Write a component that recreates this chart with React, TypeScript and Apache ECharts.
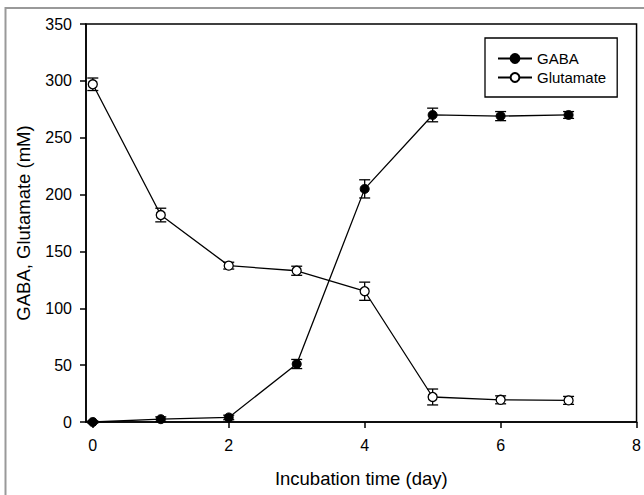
import React, { useEffect, useRef } from "react";
import * as echarts from "echarts";

const days = [0, 1, 2, 3, 4, 5, 6, 7];
const gaba = [0, 2.5, 4, 51, 205, 270, 269, 270];
const gabaErr = [1, 2, 2, 4, 8, 6, 4, 3];
const glutamate = [297, 182, 137.5, 133, 115, 22, 19.5, 19];
const glutamateErr = [5.5, 6, 3, 4, 8, 7, 3.5, 3.5];
const xTicks = [0, 2, 4, 6, 8];
const FONT = "'Liberation Sans', Arial, sans-serif";

function errorSeries(vals: number[], errs: number[]) {
  return {
    type: "custom",
    z: 1,
    silent: true,
    clip: false,
    data: days.map((d, i) => [d, vals[i] - errs[i], vals[i] + errs[i]]),
    renderItem: (params: any, api: any) => {
      const x = api.value(0);
      const lo = api.coord([x, api.value(1)]);
      const hi = api.coord([x, api.value(2)]);
      const hw = 5.5;
      const style = { stroke: "#000", lineWidth: 1.3 };
      return {
        type: "group",
        children: [
          { type: "line", shape: { x1: lo[0], y1: lo[1], x2: hi[0], y2: hi[1] }, style },
          { type: "line", shape: { x1: lo[0] - hw, y1: lo[1], x2: lo[0] + hw, y2: lo[1] }, style },
          { type: "line", shape: { x1: hi[0] - hw, y1: hi[1], x2: hi[0] + hw, y2: hi[1] }, style },
        ],
      };
    },
  };
}

export default function App() {
  const ref = useRef<HTMLDivElement>(null);
  useEffect(() => {
    document.body.style.margin = "0";
    const chart = echarts.init(ref.current!, null, { renderer: "svg" });
    chart.setOption({
      animation: false,
      backgroundColor: "#fff",
      textStyle: { fontFamily: FONT, color: "#000" },
      graphic: [
        {
          type: "rect",
          shape: { x: 5.5, y: 8, width: 700, height: 600 },
          style: { fill: "none", stroke: "#999", lineWidth: 2 },
          z: 100,
        },
      ],
      grid: {
        left: 86,
        right: 7,
        top: 24,
        bottom: 73,
        show: true,
        borderColor: "#000",
        borderWidth: 1.5,
        backgroundColor: "transparent",
      },
      legend: {
        left: 485,
        top: 38,
        orient: "vertical",
        padding: [13, 11, 12, 12],
        itemGap: 4,
        itemWidth: 34,
        itemHeight: 11,
        borderColor: "#000",
        borderWidth: 1.3,
        textStyle: { fontSize: 15, color: "#000", fontFamily: FONT, padding: [0, 0, 0, 0], lineHeight: 15 },
        data: ["GABA", "Glutamate"],
      },
      xAxis: {
        type: "value",
        min: -0.1,
        max: 8,
        name: "Incubation time (day)",
        nameLocation: "middle",
        nameGap: 47,
        nameTextStyle: { fontSize: 18.5, color: "#000", fontFamily: FONT },
        splitLine: { show: false },
        axisLine: { onZero: false, lineStyle: { color: "#000", width: 1.5 } },
        axisTick: { show: true, length: 6, lineStyle: { color: "#000", width: 1.5 }, customValues: xTicks },
        axisLabel: { fontSize: 16, color: "#000", margin: 15, customValues: xTicks, fontFamily: FONT },
      },
      yAxis: {
        type: "value",
        min: 0,
        max: 350,
        interval: 50,
        name: "GABA, Glutamate (mM)",
        nameLocation: "middle",
        nameGap: 53,
        nameTextStyle: { fontSize: 18.5, color: "#000", fontFamily: FONT },
        splitLine: { show: false },
        axisLine: { onZero: false, lineStyle: { color: "#000", width: 1.5 } },
        axisTick: { show: true, length: 6, lineStyle: { color: "#000", width: 1.5 } },
        axisLabel: { fontSize: 16, color: "#000", margin: 14, fontFamily: FONT },
      },
      series: [
        errorSeries(gaba, gabaErr),
        errorSeries(glutamate, glutamateErr),
        {
          name: "GABA",
          type: "line",
          z: 3,
          clip: false,
          data: days.map((d, i) => [d, gaba[i]]),
          symbol: "circle",
          symbolSize: 9,
          itemStyle: { color: "#000", borderColor: "#000", borderWidth: 1 },
          lineStyle: { color: "#000", width: 1.3 },
        },
        {
          name: "Glutamate",
          type: "line",
          z: 3,
          clip: false,
          data: days.map((d, i) => [d, glutamate[i]]),
          symbol: "circle",
          symbolSize: 9,
          itemStyle: { color: "#fff", borderColor: "#000", borderWidth: 1.3 },
          lineStyle: { color: "#000", width: 1.3 },
        },
      ],
    });
    return () => chart.dispose();
  }, []);
  return (
    <div
      ref={ref}
      style={{ position: "absolute", left: 0, top: 0, width: 644, height: 495 }}
    />
  );
}
